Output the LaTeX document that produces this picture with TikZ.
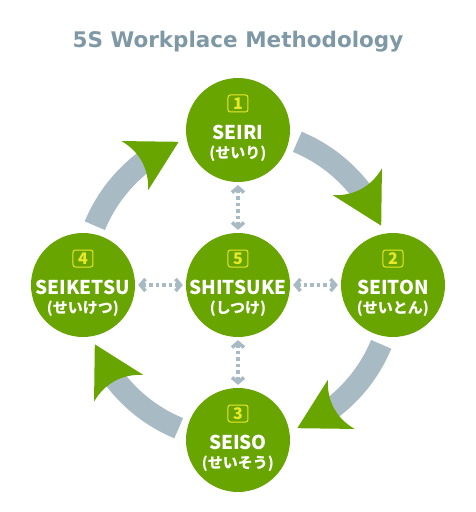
\documentclass[tikz,border=0pt]{standalone}
\usepackage{fontspec}
\setmainfont{DejaVu Sans}
\newfontfamily\jpfont{Noto Sans CJK JP}
\newfontfamily\titlefont{DejaVu Sans}
\usetikzlibrary{arrows.meta}
\definecolor{leaf}{RGB}{104,165,0}
\definecolor{band}{RGB}{168,186,196}
\definecolor{titlegray}{RGB}{127,152,165}
\definecolor{numyellow}{RGB}{232,232,40}
\begin{document}
\begin{tikzpicture}[x=1pt,y=1pt,
  stage/.style={circle, fill=leaf, minimum size=104pt, inner sep=0pt},
  numbox/.style={draw=numyellow, line width=1pt, rounded corners=2.5pt, minimum width=20pt, minimum height=17pt, inner sep=0pt, text=numyellow, font=\jpfont\bfseries\fontsize{16}{16}\selectfont},
  mainlbl/.style={text=white, font=\jpfont\bfseries\fontsize{19}{19}\selectfont, inner sep=0pt},
  kanalbl/.style={text=white, font=\jpfont\bfseries\fontsize{15}{15}\selectfont, inner sep=0pt},
  cyclearc/.style={draw=band, line width=22pt},
  headfill/.style={fill=leaf},
  dotlink/.style={draw=band, line width=3.5pt, dash pattern=on 3.5pt off 3pt, {Straight Barb[length=5pt,width=12pt]}-{Straight Barb[length=5pt,width=12pt]}, shorten <=3pt, shorten >=3pt},
]
\useasboundingbox (-238,-227) rectangle (237,285);
\node[anchor=base, text=titlegray, font=\titlefont\bfseries\fontsize{21.5}{21.5}\selectfont] (title) at (0,237.5) {5S Workplace Methodology};
% cycle bands
\foreach \s in {157.5, 67.5, -22.5, -112.5}
  \draw[cyclearc] (\s:155) arc[start angle=\s, end angle=\s-31, radius=155];
% arrow heads
\foreach \t in {112.5, 22.5, -67.5, -157.5}
  \fill[headfill, shift={(\t:155)}, rotate=\t-84] (0,0) -- (-50,28) .. controls (-39,10) and (-39,-10) .. (-50,-28) -- cycle;
% stages
\node[stage] (seiri) at (0,155) {};
\node[stage] (seiton) at (155,0) {};
\node[stage] (seiso) at (0,-155) {};
\node[stage] (seiketsu) at (-155,0) {};
\node[stage] (shitsuke) at (0,0) {};
% dotted links
\draw[dotlink] (shitsuke) -- (seiri);
\draw[dotlink] (shitsuke) -- (seiton);
\draw[dotlink] (shitsuke) -- (seiso);
\draw[dotlink] (shitsuke) -- (seiketsu);
% labels
\node[numbox] (n1) at ([yshift=26.5pt]seiri.center) {1};
\node[mainlbl] (t1) at ([yshift=-2pt]seiri.center) {SEIRI};
\node[kanalbl] (k1) at ([yshift=-24pt]seiri.center) {(せいり)};
\node[numbox] (n2) at ([yshift=26.5pt]seiton.center) {2};
\node[mainlbl] (t2) at ([yshift=-2pt]seiton.center) {SEITON};
\node[kanalbl] (k2) at ([yshift=-24pt]seiton.center) {(せいとん)};
\node[numbox] (n3) at ([yshift=26.5pt]seiso.center) {3};
\node[mainlbl] (t3) at ([yshift=-2pt]seiso.center) {SEISO};
\node[kanalbl] (k3) at ([yshift=-24pt]seiso.center) {(せいそう)};
\node[numbox] (n4) at ([yshift=26.5pt]seiketsu.center) {4};
\node[mainlbl] (t4) at ([yshift=-2pt]seiketsu.center) {SEIKETSU};
\node[kanalbl] (k4) at ([yshift=-24pt]seiketsu.center) {(せいけつ)};
\node[numbox] (n5) at ([yshift=26.5pt]shitsuke.center) {5};
\node[mainlbl] (t5) at ([yshift=-2pt]shitsuke.center) {SHITSUKE};
\node[kanalbl] (k5) at ([yshift=-24pt]shitsuke.center) {(しつけ)};
\end{tikzpicture}
\end{document}
